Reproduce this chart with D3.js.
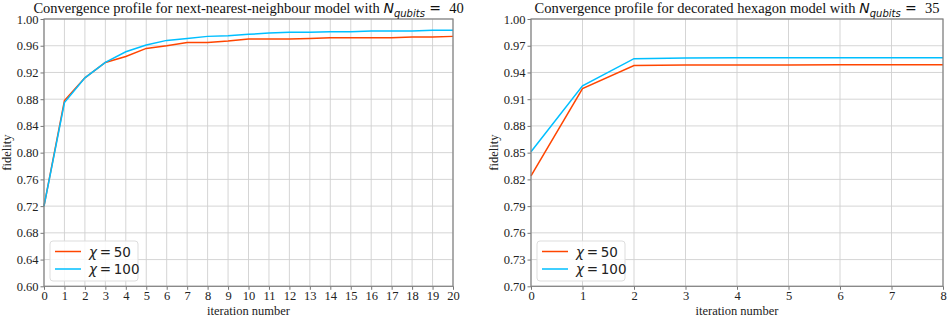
<!DOCTYPE html>
<html><head><meta charset="utf-8">
<script src="https://cdn.jsdelivr.net/npm/d3@7"></script>
<style>body{margin:0;background:#fff;} svg{display:block;}</style>
</head><body>
<svg id="c" width="948" height="322"></svg>
<script>
// Left panel data
const itersA = d3.range(0, 21);
const chi50A = [0.720,0.878,0.912,0.935,0.944,0.956,0.960,0.965,0.965,0.967,0.970,0.970,0.970,0.971,0.972,0.972,0.972,0.972,0.973,0.973,0.974];
const chi100A = [0.720,0.875,0.912,0.935,0.951,0.961,0.968,0.971,0.974,0.975,0.977,0.979,0.980,0.980,0.981,0.981,0.982,0.982,0.982,0.983,0.983];
const yTicksA = [0.60,0.64,0.68,0.72,0.76,0.80,0.84,0.88,0.92,0.96,1.00];
// Right panel data
const itersB = d3.range(0, 9);
const chi50B = [0.824,0.922,0.9478,0.9483,0.9484,0.9485,0.9486,0.9486,0.9487];
const chi100B = [0.851,0.925,0.9555,0.9563,0.9564,0.9565,0.9565,0.9566,0.9566];
const yTicksB = [0.70,0.73,0.76,0.79,0.82,0.85,0.88,0.91,0.94,0.97,1.00];
const seriesLabels = ["50","100"];
const colors = ["#ff4500","#00bfff"];

const svg = d3.select("#c");
const serif = "'Liberation Serif','Times New Roman',serif";
const sans = "'DejaVu Sans',sans-serif";

function panel(cfg){
  const {x0,x1,y0,y1,iters,s50,s100,yTicks,yDom,title1,nval} = cfg;
  const x = d3.scaleLinear().domain([iters[0], iters[iters.length-1]]).range([x0,x1]);
  const y = d3.scaleLinear().domain(yDom).range([y1,y0]);
  const g = svg.append("g");
  // grid
  g.selectAll(".gx").data(iters).join("line")
    .attr("x1",d=>x(d)).attr("x2",d=>x(d)).attr("y1",y0).attr("y2",y1)
    .attr("stroke","#d0d0d0").attr("stroke-width",0.9);
  g.selectAll(".gy").data(yTicks).join("line")
    .attr("x1",x0).attr("x2",x1).attr("y1",d=>y(d)).attr("y2",d=>y(d))
    .attr("stroke","#d0d0d0").attr("stroke-width",0.9);
  // lines
  const line = d3.line().x((d,i)=>x(iters[i])).y(d=>y(d));
  [s50,s100].forEach((s,k)=>{
    g.append("path").datum(s).attr("d",line).attr("fill","none")
      .attr("stroke",colors[k]).attr("stroke-width",1.5);
  });
  // axes
  const xa = g.append("g").attr("transform",`translate(0,${y1})`)
    .call(d3.axisBottom(x).tickValues(iters).tickFormat(d3.format("d")).tickSize(3.5).tickPadding(1.5));
  const ya = g.append("g").attr("transform",`translate(${x0},0)`)
    .call(d3.axisLeft(y).tickValues(yTicks).tickFormat(d3.format(".2f")).tickSize(3.5).tickPadding(2));
  [xa,ya].forEach(a=>{
    a.select(".domain").remove();
    a.selectAll("line").attr("stroke","#777");
    a.selectAll("text").attr("font-family",serif).attr("font-size",12.5).attr("fill","#222");
  });
  // frame
  g.append("rect").attr("x",x0).attr("y",y0).attr("width",x1-x0).attr("height",y1-y0)
    .attr("fill","none").attr("stroke","#808080").attr("stroke-width",1.2);
  // labels
  g.append("text").attr("x",(x0+x1)/2).attr("y",315).attr("text-anchor","middle")
    .attr("font-family",serif).attr("font-size",12.5).attr("fill","#222").text("iteration number");
  g.append("text").attr("transform",`translate(${x0-33},${(y0+y1)/2}) rotate(-90)`)
    .attr("text-anchor","middle").attr("font-family",serif).attr("font-size",12.5).attr("fill","#222").text("fidelity");
  // title
  const t = g.append("text").attr("x",(x0+x1)/2).attr("y",13).attr("text-anchor","middle")
    .attr("font-family",serif).attr("font-size",14.5).attr("fill","#111");
  t.append("tspan").text(title1);
  t.append("tspan").attr("font-family",sans).attr("font-style","italic").attr("font-size",14).text("N");
  t.append("tspan").attr("font-family",sans).attr("font-style","italic").attr("font-size",10).attr("dy",3.5).text("qubits");
  t.append("tspan").attr("font-family",sans).attr("font-size",14).attr("dy",-3.5).text(" = ");
  t.append("tspan").text("\u00a0"+nval);
  // legend
  const lx = x0+6, ly = 241;
  g.append("rect").attr("x",lx).attr("y",ly).attr("width",88).attr("height",40).attr("rx",3)
    .attr("fill","#fff").attr("fill-opacity",0.85).attr("stroke","#ddd").attr("stroke-width",1);
  seriesLabels.forEach((lab,k)=>{
    const yy = ly+10.5+k*17.5;
    g.append("line").attr("x1",lx+5).attr("x2",lx+31).attr("y1",yy).attr("y2",yy)
      .attr("stroke",colors[k]).attr("stroke-width",1.5);
    const tt = g.append("text").attr("x",lx+39).attr("y",yy+5).attr("font-family",sans).attr("font-size",13.5).attr("fill","#222");
    tt.append("tspan").attr("font-style","italic").text("χ");
    tt.append("tspan").text("\u2009=\u2009"+lab);
  });
}

panel({x0:44,x1:453,y0:19,y1:286.3,iters:itersA,s50:chi50A,s100:chi100A,yTicks:yTicksA,yDom:[0.60,1.00],
  title1:"Convergence profile for next-nearest-neighbour model with ",nval:"40"});
panel({x0:531,x1:943,y0:19,y1:286.3,iters:itersB,s50:chi50B,s100:chi100B,yTicks:yTicksB,yDom:[0.70,1.00],
  title1:"Convergence profile for decorated hexagon model with ",nval:"35"});
</script>
</body></html>
